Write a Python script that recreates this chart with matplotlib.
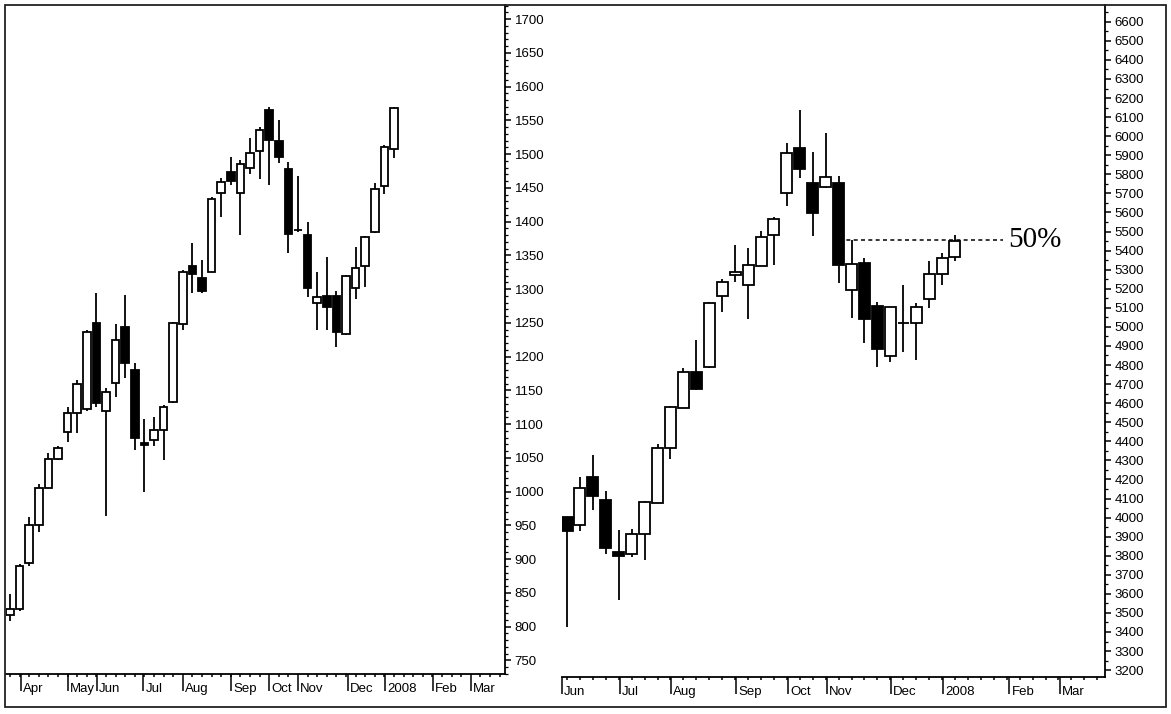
import matplotlib
matplotlib.use("Agg")
from matplotlib import pyplot as plt
from matplotlib.patches import Rectangle
from matplotlib.ticker import MultipleLocator, FixedLocator, NullFormatter

# left chart: weekly candles (index = week number)
left_open = [818, 826, 895, 950, 1006, 1049, 1088, 1117, 1122, 1250, 1119, 1161, 1244, 1181, 1072, 1076, 1092,
             1133, 1248, 1335, 1317, 1326, 1443, 1473, 1443, 1480, 1505, 1566, 1520, 1478, 1388, 1380, 1279,
             1290, 1290, 1234, 1302, 1335, 1385, 1453, 1508]
left_high = [848, 893, 963, 1012, 1058, 1067, 1126, 1165, 1240, 1295, 1154, 1249, 1292, 1190, 1107, 1110, 1128,
             1252, 1328, 1369, 1343, 1437, 1465, 1496, 1492, 1524, 1541, 1570, 1551, 1489, 1467, 1400, 1326,
             1347, 1298, 1321, 1363, 1379, 1458, 1513, 1570]
left_low = [808, 824, 890, 941, 1005, 1047, 1073, 1087, 1120, 1125, 964, 1141, 1169, 1062, 1000, 1068, 1047,
            1131, 1240, 1295, 1294, 1325, 1407, 1455, 1381, 1471, 1463, 1455, 1487, 1353, 1385, 1289, 1240,
            1240, 1215, 1232, 1286, 1304, 1384, 1441, 1495]
left_close = [826, 890, 950, 1006, 1049, 1065, 1117, 1159, 1237, 1132, 1148, 1225, 1191, 1079, 1069, 1092, 1126,
              1250, 1326, 1322, 1298, 1434, 1459, 1461, 1486, 1502, 1536, 1521, 1496, 1382, 1387, 1302, 1289,
              1274, 1237, 1320, 1332, 1378, 1449, 1510, 1569]
left_month_pos = [1.1, 6.05, 9.05, 13.9, 18.0, 23.05, 27.0, 30.0, 35.2, 39.05, 44.05, 48.0]
left_month_labels = ['Apr', 'May', 'Jun', 'Jul', 'Aug', 'Sep', 'Oct', 'Nov', 'Dec', '2008', 'Feb', 'Mar']

# right chart
right_open = [4003, 3961, 4213, 4092, 3818, 3810, 3915, 4077, 4367, 4575, 4763, 4789, 5163, 5274, 5221, 5321,
              5482, 5702, 5938, 5753, 5734, 5753, 5195, 5336, 5109, 4847, 5018, 5018, 5147, 5279, 5367]
right_high = [4005, 4213, 4328, 4139, 3935, 3941, 4085, 4386, 4583, 4784, 4930, 5128, 5251, 5431, 5413, 5503,
              5577, 5964, 6138, 5917, 6016, 5791, 5456, 5362, 5130, 5106, 5219, 5125, 5343, 5385, 5482]
right_low = [3426, 3929, 4040, 3809, 3569, 3794, 3778, 4075, 4307, 4573, 4668, 4785, 5077, 5237, 5041, 5318,
             5326, 5634, 5780, 5476, 5730, 5231, 5048, 4915, 4789, 4816, 4868, 4826, 5100, 5219, 5343]
right_close = [3929, 4155, 4113, 3840, 3800, 3915, 4082, 4365, 4580, 4763, 4673, 5125, 5237, 5290, 5326, 5473,
               5566, 5912, 5827, 5598, 5786, 5326, 5331, 5041, 4884, 5104, 5020, 5104, 5279, 5362, 5450]
right_month_pos = [-0.39, 4.1, 8.05, 13.1, 17.1, 20.1, 25.05, 29.1, 34.2, 38.1]
right_month_labels = ['Jun', 'Jul', 'Aug', 'Sep', 'Oct', 'Nov', 'Dec', '2008', 'Feb', 'Mar']

# 50% retracement line
retrace_level = 5455
retrace_start = 21
retrace_end = 33.7

plt.rcParams['font.family'] = ['Liberation Sans', 'DejaVu Sans']

W, H = 1171, 714


def px_rect(x0, y0, x1, y1):
    # pixel box (top-left origin) -> figure fraction [l, b, w, h]
    return [x0 / W, 1 - y1 / H, (x1 - x0) / W, (y1 - y0) / H]


def draw_candles(ax, o, h, l, c, width):
    x = list(range(len(o)))
    ax.vlines(x, l, h, color='black', linewidth=1.3, zorder=2)
    bottoms = [min(a, b) for a, b in zip(o, c)]
    heights = [abs(b - a) for a, b in zip(o, c)]
    colors = ['black' if b < a else 'white' for a, b in zip(o, c)]
    ax.bar(x, heights, bottom=bottoms, width=width, color=colors, edgecolor='black',
           linewidth=1.3, zorder=3)


def style_axis(ax, xlim, ylim, major, minor, n_weeks, month_pos, month_labels):
    ax.set_xlim(*xlim)
    ax.set_ylim(*ylim)
    ax.spines['top'].set_visible(False)
    ax.spines['left'].set_visible(False)
    ax.spines['right'].set_linewidth(1.3)
    ax.spines['bottom'].set_linewidth(1.3)
    ax.yaxis.tick_right()
    ax.yaxis.set_major_locator(MultipleLocator(major))
    ax.yaxis.set_minor_locator(MultipleLocator(minor))
    ax.tick_params(axis='y', which='major', length=4, width=1.1, labelsize=9.5, pad=3)
    ax.tick_params(axis='y', which='minor', length=2, width=0.9)
    ax.xaxis.set_major_locator(FixedLocator(month_pos))
    ax.xaxis.set_minor_locator(FixedLocator(list(range(0, n_weeks))))
    ax.xaxis.set_major_formatter(NullFormatter())
    ax.tick_params(axis='x', which='major', length=12.5, width=1.1)
    ax.tick_params(axis='x', which='minor', length=2.5, width=1.1)
    for pos, lab in zip(month_pos, month_labels):
        ax.annotate(lab, xy=(pos, 0), xycoords=('data', 'axes fraction'), xytext=(1.5, -10.5),
                    textcoords='offset points', ha='left', va='center', fontsize=9.5)


fig = plt.figure(figsize=(W / 100, H / 100), dpi=100)
fig.patch.set_facecolor('white')

ax1 = fig.add_axes(px_rect(6, 5, 505, 674))
draw_candles(ax1, left_open, left_high, left_low, left_close, 0.78)
style_axis(ax1, (-0.42, 51.56), (730, 1721), 50, 10, 52, left_month_pos, left_month_labels)

ax2 = fig.add_axes(px_rect(562, 5, 1105, 677))
draw_candles(ax2, right_open, right_high, right_low, right_close, 0.85)
style_axis(ax2, (-0.39, 41.6), (3164, 6688), 100, 50, 42, right_month_pos, right_month_labels)
ax2.plot([retrace_start, retrace_end], [retrace_level, retrace_level], color='black',
         linewidth=1.1, linestyle=(0, (2.6, 2.2)), zorder=1)
ax2.text(retrace_end + 0.4, retrace_level, '50%', fontsize=21, family='Liberation Serif',
         ha='left', va='center')

# outer frame around both charts
fig.patches.append(Rectangle((5 / W, 1 - 707 / H), 1161 / W, 702 / H, transform=fig.transFigure,
                             fill=False, edgecolor='#222222', linewidth=1.3))

plt.savefig("out.png", dpi=100)
